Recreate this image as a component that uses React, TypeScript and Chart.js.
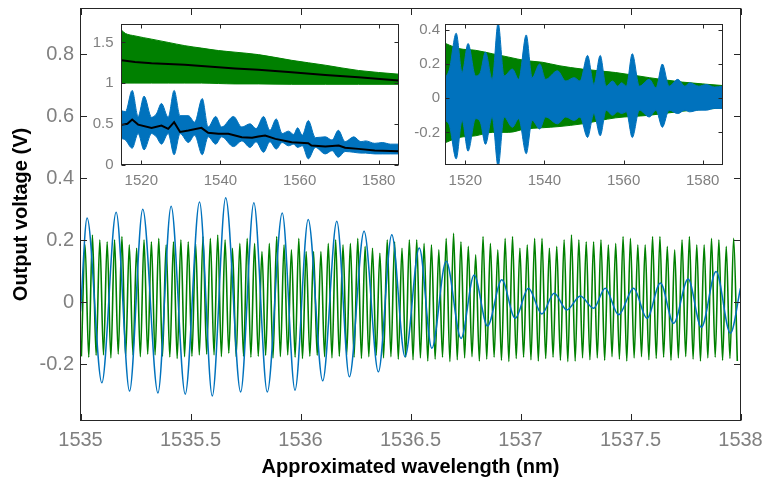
import React, { useEffect, useRef } from "react";
import { Chart, registerables } from "chart.js";
Chart.register(...registerables);

// ---------------- main chart data ----------------
const mainXTicks = [1535, 1535.5, 1536, 1536.5, 1537, 1537.5, 1538];
const mainYTicks = [-0.2, 0, 0.2, 0.4, 0.6, 0.8];

// green reference fringes: first trough position and fringe period (nm)
const refStart = 1535.004;
const refPeriod = 0.0335;
const refPeaks = [
  0.185, 0.217, 0.201, 0.195, 0.201, 0.212, 0.185, 0.174, 0.201, 0.195, 0.206, 0.185, 0.195, 0.201, 0.195, 0.19, 0.212, 0.206, 0.217, 0.201, 0.174, 0.19, 0.206,
  0.19, 0.163, 0.19, 0.212, 0.185, 0.169, 0.206, 0.163, 0.163, 0.163, 0.19, 0.201, 0.185, 0.19, 0.206, 0.18, 0.174, 0.158, 0.201, 0.195, 0.174, 0.201,
  0.201, 0.19, 0.185, 0.169, 0.206, 0.222, 0.195, 0.18, 0.153, 0.212, 0.19, 0.169, 0.206, 0.212, 0.174, 0.185, 0.206, 0.206, 0.174, 0.18, 0.201, 0.217,
  0.201, 0.195, 0.195, 0.201, 0.185, 0.19, 0.212, 0.206, 0.185, 0.185, 0.212, 0.212, 0.18, 0.169, 0.201, 0.212, 0.185, 0.185, 0.206, 0.201, 0.18, 0.206,
];
const refTroughs = [
  -0.175, -0.178, -0.172, -0.17, -0.18, -0.168, -0.175, -0.17, -0.176, -0.168, -0.17, -0.175, -0.177, -0.182, -0.176, -0.175, -0.17, -0.168, -0.17, -0.176, -0.165, -0.176, -0.175,
  -0.178, -0.175, -0.172, -0.18, -0.176, -0.17, -0.178, -0.182, -0.175, -0.172, -0.176, -0.18, -0.175, -0.17, -0.178, -0.182, -0.176, -0.172, -0.18, -0.176, -0.184, -0.178,
  -0.186, -0.18, -0.19, -0.184, -0.178, -0.192, -0.186, -0.18, -0.176, -0.19, -0.184, -0.178, -0.188, -0.192, -0.182, -0.178, -0.186, -0.19, -0.182, -0.178, -0.188, -0.192,
  -0.19, -0.18, -0.186, -0.18, -0.188, -0.176, -0.184, -0.19, -0.18, -0.176, -0.186, -0.182, -0.178, -0.188, -0.18, -0.176, -0.184, -0.19, -0.18, -0.178, -0.188, -0.182, -0.19,
];

const sigX = [
  1535.0, 1535.03, 1535.097, 1535.162, 1535.223, 1535.283, 1535.352, 1535.412, 1535.476, 1535.541, 1535.599, 1535.66, 1535.728,
  1535.788, 1535.849, 1535.917, 1535.975, 1536.035, 1536.101, 1536.165, 1536.222, 1536.289, 1536.354, 1536.415, 1536.475,
  1536.54, 1536.597, 1536.662, 1536.73, 1536.789, 1536.85, 1536.915, 1536.976, 1537.036, 1537.097, 1537.153, 1537.211,
  1537.272, 1537.332, 1537.385, 1537.446, 1537.514, 1537.575, 1537.636, 1537.696, 1537.762, 1537.822, 1537.889, 1537.954, 1538.0,
];
const sigY = [
  -0.03, 0.272, -0.26, 0.29, -0.287, 0.3, -0.293, 0.31, -0.297, 0.323, -0.303, 0.337, -0.29,
  0.321, -0.29, 0.288, -0.284, 0.267, -0.254, 0.261, -0.241, 0.229, -0.225, 0.218, -0.176,
  0.175, -0.149, 0.132, -0.117, 0.088, -0.077, 0.072, -0.052, 0.045, -0.038, 0.029, -0.025,
  0.02, -0.02, 0.045, -0.041, 0.045, -0.052, 0.062, -0.068, 0.075, -0.081, 0.099, -0.1, 0.045,
];

// ---------------- inset data ----------------
const insetXTicks = [1520, 1540, 1560, 1580];
const leftYTicks = [0, 0.5, 1, 1.5];
const rightYTicks = [-0.2, 0, 0.2, 0.4];

// green reference envelopes
const refEnvX = [1515, 1516, 1518.4, 1522.6, 1526.8, 1531, 1535.2, 1539.5, 1543.7, 1549.6, 1558, 1566.5, 1574.9, 1585];
const refRawTop = [1.65, 1.61, 1.58, 1.54, 1.5, 1.46, 1.43, 1.4, 1.38, 1.35, 1.28, 1.22, 1.155, 1.11];
const refRawBottom = [1.0, 1.0, 1.0, 1.0, 1.0, 1.0, 1.0, 0.995, 0.99, 0.99, 0.985, 0.985, 0.985, 0.985];
const refRawMean = [1.28, 1.275, 1.26, 1.245, 1.235, 1.224, 1.21, 1.196, 1.18, 1.163, 1.134, 1.1, 1.073, 1.032];
const refAcTop = [0.32, 0.31, 0.29, 0.28, 0.26, 0.24, 0.22, 0.21, 0.19, 0.17, 0.15, 0.12, 0.094, 0.074];
const refAcBottom = [-0.26, -0.25, -0.23, -0.22, -0.2, -0.2, -0.18, -0.173, -0.166, -0.15, -0.115, -0.1, -0.076, -0.057];

// blue signal envelopes
const sigEnvX = [
  1515.0, 1516.0, 1517.7, 1519.2, 1520.7, 1522.6, 1523.8, 1525.1, 1526.8, 1528.3, 1529.8, 1531.9, 1533.5, 1535.4,
  1536.9, 1538.8, 1540.3, 1543.3, 1545.4, 1547.5, 1549.0, 1550.9, 1552.5, 1554.1, 1555.6, 1557.2, 1558.5, 1559.5,
  1560.7, 1562.2, 1564.0, 1566.5, 1568.2, 1569.8, 1571.5, 1573.7, 1575.5, 1576.7, 1579.0, 1580.9, 1583.0, 1585.0,
];
const sigRawTop = [
  0.66, 0.65, 0.91, 0.59, 0.84, 0.58, 0.62, 0.75, 0.58, 0.91, 0.6, 0.6, 0.52, 0.81,
  0.46, 0.59, 0.46, 0.59, 0.46, 0.5, 0.44, 0.59, 0.42, 0.56, 0.38, 0.41, 0.37, 0.45,
  0.36, 0.54, 0.33, 0.34, 0.3, 0.42, 0.28, 0.34, 0.28, 0.29, 0.26, 0.27, 0.25, 0.25,
];
const sigRawBottom = [
  0.32, 0.3, 0.2, 0.38, 0.18, 0.38, 0.34, 0.25, 0.38, 0.12, 0.38, 0.27, 0.36, 0.12,
  0.34, 0.25, 0.34, 0.22, 0.29, 0.21, 0.28, 0.15, 0.28, 0.19, 0.27, 0.23, 0.25, 0.21,
  0.23, 0.07, 0.21, 0.13, 0.17, 0.09, 0.16, 0.15, 0.14, 0.14, 0.13, 0.13, 0.13, 0.13,
];
const sigAcTop = [
  0.12, 0.17, 0.38, 0.15, 0.32, 0.13, 0.15, 0.27, 0.11, 0.44, 0.13, 0.17, 0.11, 0.37,
  0.12, 0.2, 0.11, 0.16, 0.1, 0.12, 0.1, 0.25, 0.08, 0.25, 0.07, 0.1, 0.07, 0.09,
  0.07, 0.26, 0.07, 0.11, 0.06, 0.2, 0.07, 0.11, 0.07, 0.09, 0.07, 0.08, 0.065, 0.07,
];
const sigAcBottom = [
  -0.13, -0.16, -0.355, -0.13, -0.31, -0.12, -0.14, -0.27, -0.11, -0.4, -0.11, -0.17, -0.12, -0.325,
  -0.13, -0.18, -0.11, -0.15, -0.11, -0.13, -0.11, -0.23, -0.09, -0.22, -0.07, -0.1, -0.08, -0.09,
  -0.08, -0.23, -0.07, -0.11, -0.07, -0.17, -0.07, -0.09, -0.07, -0.08, -0.07, -0.07, -0.06, -0.06,
];
const sigMeanX = [1515, 1516.5, 1517.7, 1519.2, 1522.6, 1525.1, 1526.8, 1528.3, 1529.8, 1531.9, 1535.2, 1536.9, 1539.5, 1542, 1545.4, 1548, 1549.6, 1551.3, 1553.9, 1558, 1562.2, 1563, 1566.5, 1569.9, 1571.5, 1574.9, 1579, 1585];
const sigMeanY = [0.487, 0.5, 0.553, 0.49, 0.45, 0.479, 0.438, 0.52, 0.4, 0.418, 0.45, 0.389, 0.377, 0.377, 0.336, 0.328, 0.345, 0.356, 0.315, 0.274, 0.262, 0.233, 0.221, 0.233, 0.205, 0.192, 0.172, 0.164];

// ---------------- styling ----------------
const BLUE = "#0072BD";
const GREEN = "#008000";
const GRAY = "#808080";
const AXIS = "#262626";
const FONT = "'Liberation Sans', Arial, Helvetica, sans-serif";

const pts = (xs: number[], ys: number[]) => xs.map((x, i) => ({ x, y: ys[i] }));

function buildRef() {
  const out: { x: number; y: number }[] = [];
  for (let k = 0; k < refTroughs.length; k++) {
    out.push({ x: refStart + k * refPeriod, y: refTroughs[k] });
    if (k < refPeaks.length) out.push({ x: refStart + (k + 0.5) * refPeriod, y: refPeaks[k] });
  }
  return out;
}

function zeroPad(s: any) {
  s.paddingTop = 0;
  s.paddingBottom = 0;
  s.paddingLeft = 0;
  s.paddingRight = 0;
}

function xScale(min: number, max: number, ticks: number[], size: number, padding: number, height: number) {
  return {
    type: "linear",
    position: "bottom",
    min,
    max,
    grid: { display: false, drawTicks: false },
    border: { display: false },
    afterBuildTicks: (s: any) => {
      s.ticks = ticks.map((v) => ({ value: v }));
    },
    afterFit: (s: any) => {
      s.height = height;
      zeroPad(s);
    },
    ticks: {
      autoSkip: false,
      maxRotation: 0,
      minRotation: 0,
      padding,
      color: GRAY,
      font: { family: FONT, size },
      callback: (v: any) => String(v),
    },
  };
}

function yScale(min: number, max: number, ticks: number[], size: number, padding: number, width: number) {
  return {
    type: "linear",
    position: "left",
    min,
    max,
    grid: { display: false, drawTicks: false },
    border: { display: false },
    afterBuildTicks: (s: any) => {
      s.ticks = ticks.map((v) => ({ value: v }));
    },
    afterFit: (s: any) => {
      s.width = width;
      zeroPad(s);
    },
    ticks: {
      autoSkip: false,
      padding,
      color: GRAY,
      font: { family: FONT, size },
      callback: (v: any) => String(v),
    },
  };
}

function framePlugin(xTicks: number[], yTicks: number[], len: number, whiteBg: boolean) {
  return {
    id: "frame",
    beforeDatasetsDraw(chart: any) {
      if (!whiteBg) return;
      const { ctx, chartArea: a } = chart;
      ctx.save();
      ctx.fillStyle = "#ffffff";
      ctx.fillRect(a.left, a.top, a.right - a.left, a.bottom - a.top);
      ctx.restore();
    },
    afterDatasetsDraw(chart: any) {
      const { ctx, chartArea: a, scales } = chart;
      ctx.save();
      ctx.strokeStyle = AXIS;
      ctx.lineWidth = 1;
      ctx.beginPath();
      for (const t of xTicks) {
        const p = Math.round(scales.x.getPixelForValue(t)) + 0.5;
        ctx.moveTo(p, a.bottom);
        ctx.lineTo(p, a.bottom - len);
        ctx.moveTo(p, a.top);
        ctx.lineTo(p, a.top + len);
      }
      for (const t of yTicks) {
        const p = Math.round(scales.y.getPixelForValue(t)) + 0.5;
        ctx.moveTo(a.left, p);
        ctx.lineTo(a.left + len, p);
        ctx.moveTo(a.right, p);
        ctx.lineTo(a.right - len, p);
      }
      ctx.stroke();
      ctx.strokeRect(a.left, a.top, a.right - a.left, a.bottom - a.top);
      ctx.restore();
    },
  };
}

const titlesPlugin = {
  id: "titles",
  afterDraw(chart: any) {
    const { ctx, chartArea: a } = chart;
    ctx.save();
    ctx.fillStyle = "#000000";
    ctx.font = `bold 20px ${FONT}`;
    ctx.textAlign = "center";
    ctx.textBaseline = "middle";
    ctx.fillText("Approximated wavelength (nm)", (a.left + a.right) / 2, 467);
    ctx.translate(21, (a.top + a.bottom) / 2);
    ctx.rotate(-Math.PI / 2);
    ctx.fillText("Output voltage (V)", 0, 0);
    ctx.restore();
  },
};

const common = {
  animation: false,
  responsive: false,
  devicePixelRatio: 1,
  events: [],
  plugins: { legend: { display: false }, tooltip: { enabled: false } },
  elements: { point: { radius: 0 } },
};

function mainConfig(): any {
  return {
    type: "line",
    data: {
      datasets: [
        { data: pts(sigX, sigY), borderColor: BLUE, borderWidth: 1.5, pointRadius: 0, cubicInterpolationMode: "monotone", order: 0 },
        { data: buildRef(), borderColor: GREEN, borderWidth: 1.6, pointRadius: 0, cubicInterpolationMode: "monotone", order: 1 },
      ],
    },
    options: {
      ...common,
      layout: { padding: { left: 0, top: 8.5, right: 21.5, bottom: 0 } },
      scales: {
        x: xScale(1535, 1538, mainXTicks, 20, 7.5, 57.5),
        y: yScale(-0.382, 0.948, mainYTicks, 20, 6.5, 80.5),
      },
    },
    plugins: [framePlugin(mainXTicks, mainYTicks, 6.5, false), titlesPlugin],
  };
}

function band(xs: number[], top: number[], bottom: number[], color: string, order: number) {
  const base = { borderColor: color, backgroundColor: color, borderWidth: 1, pointRadius: 0, order, clip: 0, cubicInterpolationMode: "monotone" };
  return [
    { ...base, data: pts(xs, top), fill: false },
    { ...base, data: pts(xs, bottom), fill: "-1" },
  ];
}

function leftConfig(): any {
  return {
    type: "line",
    data: {
      datasets: [
        ...band(refEnvX, refRawTop, refRawBottom, GREEN, 3),
        ...band(sigEnvX, sigRawTop, sigRawBottom, BLUE, 2),
        { data: pts(refEnvX, refRawMean), borderColor: "#000", borderWidth: 2, pointRadius: 0, order: 1, clip: 0 },
        { data: pts(sigMeanX, sigMeanY), borderColor: "#000", borderWidth: 2, pointRadius: 0, order: 0, clip: 0 },
      ],
    },
    options: {
      ...common,
      layout: { padding: { left: 0, top: 14.5, right: 6.5, bottom: 0 } },
      scales: {
        x: xScale(1515, 1585, insetXTicks, 15, 7.5, 30.5),
        y: yScale(0, 1.72, leftYTicks, 15, 8, 61.5),
      },
    },
    plugins: [framePlugin(insetXTicks, leftYTicks, 4, true)],
  };
}

function rightConfig(): any {
  return {
    type: "line",
    data: {
      datasets: [
        ...band(refEnvX, refAcTop, refAcBottom, GREEN, 2),
        ...band(sigEnvX, sigAcTop, sigAcBottom, BLUE, 1),
      ],
    },
    options: {
      ...common,
      layout: { padding: { left: 0, top: 14.5, right: 7.5, bottom: 0 } },
      scales: {
        x: xScale(1515, 1585, insetXTicks, 15, 7.5, 30.5),
        y: yScale(-0.388, 0.431, rightYTicks, 15, 5.5, 45.5),
      },
    },
    plugins: [framePlugin(insetXTicks, rightYTicks, 4, true)],
  };
}

export default function App() {
  const mainRef = useRef<HTMLCanvasElement>(null);
  const leftRef = useRef<HTMLCanvasElement>(null);
  const rightRef = useRef<HTMLCanvasElement>(null);

  useEffect(() => {
    const charts = [
      new Chart(mainRef.current as HTMLCanvasElement, mainConfig()),
      new Chart(leftRef.current as HTMLCanvasElement, leftConfig()),
      new Chart(rightRef.current as HTMLCanvasElement, rightConfig()),
    ];
    return () => charts.forEach((c) => c.destroy());
  }, []);

  return (
    <div style={{ position: "fixed", left: 0, top: 0, width: 762, height: 478, background: "#ffffff", overflow: "hidden" }}>
      <canvas ref={mainRef} width={762} height={478} style={{ position: "absolute", left: 0, top: 0 }} />
      <canvas ref={leftRef} width={345} height={185} style={{ position: "absolute", left: 60, top: 10 }} />
      <canvas ref={rightRef} width={330} height={185} style={{ position: "absolute", left: 400, top: 10 }} />
    </div>
  );
}
